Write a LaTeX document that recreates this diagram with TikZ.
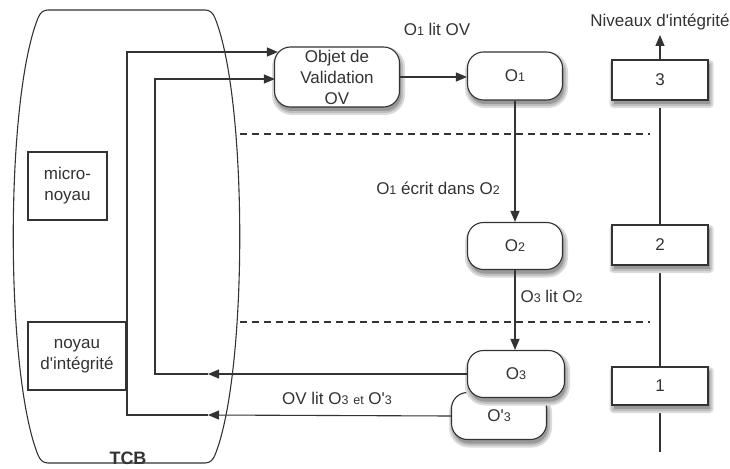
\documentclass[tikz,border=0pt]{standalone}
\usepackage{fontspec}
\setmainfont{Liberation Sans}[Ligatures=TeXOff]
\usetikzlibrary{arrows.meta,calc}
\newcommand\lowd[1]{{\fontsize{12.5}{12.5}\selectfont #1}}
\definecolor{ink}{gray}{0.2}
\definecolor{sha}{rgb}{0.86,0.86,0.86}
\definecolor{shb}{rgb}{0.74,0.74,0.74}
\definecolor{shc}{rgb}{0.6,0.6,0.6}
\newcommand\shd[4]{%
  \path[fill=sha,rounded corners=#4+4pt] ($#1+(1.5,4)+(-#2/2-4pt,-#3/2-4pt)$) rectangle ($#1+(1.5,4)+(#2/2+4pt,#3/2+4pt)$);
  \path[fill=shb,rounded corners=#4+2pt] ($#1+(1.5,4)+(-#2/2-2pt,-#3/2-2pt)$) rectangle ($#1+(1.5,4)+(#2/2+2pt,#3/2+2pt)$);
  \path[fill=shc,rounded corners=#4] ($#1+(1.5,4)+(-#2/2,-#3/2)$) rectangle ($#1+(1.5,4)+(#2/2,#3/2)$);}
\begin{document}
\begin{tikzpicture}[x=1pt,y=-1pt,
  font=\fontsize{17}{21}\selectfont,
  line width=1.1pt, color=ink,
  arr/.style={-{Triangle[length=11pt,width=9pt]}},
  obj/.style={draw,rounded corners=16pt,fill=white,align=center,inner sep=0pt},
  lvl/.style={draw,fill=white,inner sep=0pt,minimum width=96pt,minimum height=40pt},
  kbox/.style={draw,fill=white,align=center,inner sep=0pt},
  lbl/.style={inner sep=1pt},
  dash line/.style={dash pattern=on 7pt off 5pt}
]
\useasboundingbox (0,0) rectangle (730,468);
% TCB shape
\draw[fill=white] (48,10) -- (205,10)
  .. controls (210,10) and (213,13) .. (215,18)
  .. controls (248,100) and (248,373) .. (215,455)
  .. controls (213,460) and (210,463) .. (205,463)
  -- (48,463)
  .. controls (43,463) and (40,460) .. (38,455)
  .. controls (5,373) and (5,100) .. (38,18)
  .. controls (40,13) and (43,10) .. (48,10) -- cycle;
\node[font=\fontsize{18}{21}\selectfont\bfseries] (tcb) at (128,458) {TCB};
\node[kbox,minimum width=79pt,minimum height=68pt] (micro) at (67.5,186) {micro-\\noyau};
\node[kbox,minimum width=98pt,minimum height=68pt] (noyau) at (77,356) {noyau\\d'intégrité};

% dashed separators
\coordinate (d1a) at (240,134); \coordinate (d1b) at (650,134);
\coordinate (d2a) at (240,322); \coordinate (d2b) at (650,322);
\draw[dash line] (d1a) -- (d1b);
\draw[dash line] (d2a) -- (d2b);

% integrity levels axis
\coordinate (axb) at (660,452);
\coordinate (axt) at (660,35);
\draw[arr] (axb) -- (axt);

% positions
\coordinate (pov) at (337,77);
\coordinate (po1) at (515,76);
\coordinate (po2) at (515,246);
\coordinate (po3p) at (499,416);
\coordinate (po3) at (516,374);
\coordinate (pl3) at (660,80);
\coordinate (pl2) at (660,245);
\coordinate (pl1) at (660,386);

% objects
\shd{(pov)}{125pt}{60pt}{16pt}
\node[obj,minimum width=125pt,minimum height=60pt] (ov) at (pov) {Objet de\\Validation\\OV};
\shd{(po1)}{95pt}{48pt}{16pt}
\node[obj,minimum width=95pt,minimum height=48pt] (o1) at (po1) {O\lowd{1}};
\shd{(po2)}{95pt}{47pt}{16pt}
\node[obj,minimum width=95pt,minimum height=47pt] (o2) at (po2) {O\lowd{2}};
\shd{(po3p)}{95pt}{47pt}{16pt}
\node[obj,minimum width=95pt,minimum height=47pt] (o3p) at (po3p) {O'\lowd{3}};
\shd{(po3)}{97pt}{47pt}{16pt}
\node[obj,minimum width=97pt,minimum height=47pt] (o3) at (po3) {O\lowd{3}};

\shd{(pl3)}{96pt}{40pt}{0pt}
\node[lvl] (l3) at (pl3) {3};
\shd{(pl2)}{96pt}{40pt}{0pt}
\node[lvl] (l2) at (pl2) {2};
\shd{(pl1)}{96pt}{38pt}{0pt}
\node[lvl,minimum height=38pt] (l1) at (pl1) {1};
\node[lbl] (niv) at (660,22) {Niveaux d'intégrité};

% connectors between objects
\draw[arr] (ov.east) -- (o1.west |- ov.east);
\draw[arr] (o1.south) -- (o2.north);
\draw[arr] (o2.south) -- (o2.south |- o3.north);

% loops back to OV
\coordinate (m1) at (208,374);
\coordinate (m2) at (208,415);
\coordinate (c1) at (155,374);
\coordinate (c2) at (127,415);
\coordinate (e1) at ($(ov.west)+(1,2)$);
\coordinate (e2) at ($(ov.west)+(4,-25)$);
\draw[arr] (o3.west) -- (m1);
\draw[arr] (m1) -- (c1) |- (e1);
\draw[arr] (o3p.west) -- (m2);
\draw[arr] (m2) -- (c2) |- (e2);

% labels
\node[lbl] (t1) at (437,29) {O\lowd{1} lit OV};
\node[lbl] (t2) at (438,188) {O\lowd{1} écrit dans O\lowd{2}};
\node[lbl,anchor=west] (t3) at (519,296) {O\lowd{3} lit O\lowd{2}};
\node[lbl] (t4) at (337,398) {OV lit O\lowd{3} \lowd{et} O'\lowd{3}};
\end{tikzpicture}
\end{document}
